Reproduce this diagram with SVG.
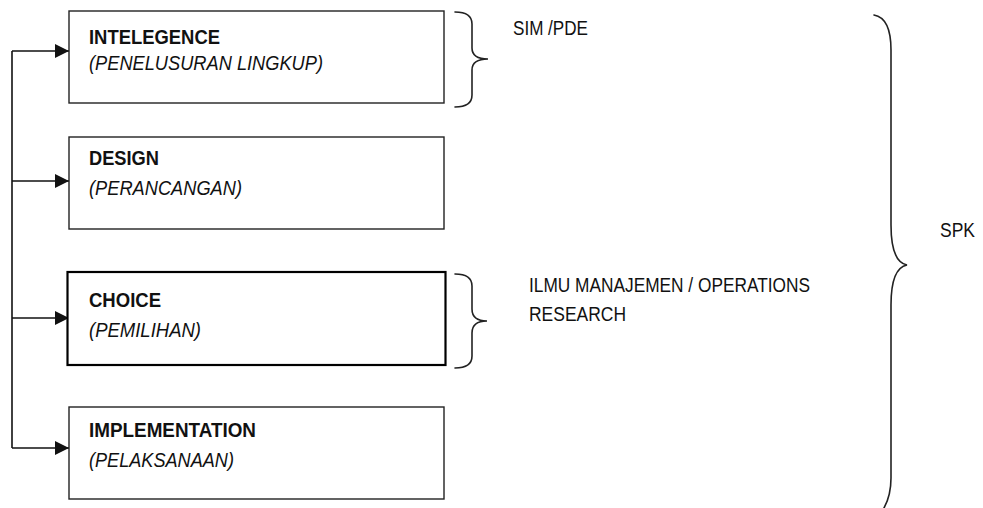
<svg xmlns="http://www.w3.org/2000/svg" width="983" height="508" viewBox="0 0 983 508">
  <style>
    .box { fill: #ffffff; stroke: #222222; stroke-width: 1.4; }
    .box-strong { fill: #ffffff; stroke: #000000; stroke-width: 2.2; }
    .title { font-family: "Liberation Sans", Arial, sans-serif; font-size: 21px; font-weight: bold; fill: #111111; }
    .sub { font-family: "Liberation Sans", Arial, sans-serif; font-size: 21px; font-style: italic; fill: #111111; }
    .label { font-family: "Liberation Sans", Arial, sans-serif; font-size: 20px; fill: #111111; }
    .wire { fill: none; stroke: #111111; stroke-width: 1.6; }
    .brace { fill: none; stroke: #222222; stroke-width: 1.6; stroke-linecap: round; }
  </style>
  <defs>
    <marker id="arrow" markerWidth="14" markerHeight="14" refX="14" refY="7" orient="auto" markerUnits="userSpaceOnUse">
      <path d="M0,0 L14,7 L0,14 Z" fill="#111111"/>
    </marker>
  </defs>

  <rect width="983" height="508" fill="#ffffff"/>

  <!-- feedback connectors -->
  <g id="connectors">
    <path class="wire" d="M12,448 L12,51"/>
    <path class="wire" d="M12,51 L69,51" marker-end="url(#arrow)"/>
    <path class="wire" d="M12,181 L69,181" marker-end="url(#arrow)"/>
    <path class="wire" d="M12,318 L69,318" marker-end="url(#arrow)"/>
    <path class="wire" d="M12,448 L69,448" marker-end="url(#arrow)"/>
  </g>

  <g id="intelligence">
    <rect class="box" x="69" y="11" width="375" height="92"/>
    <text class="title" x="89" y="44" textLength="131" lengthAdjust="spacingAndGlyphs">INTELEGENCE</text>
    <text class="sub" x="89" y="70" textLength="234" lengthAdjust="spacingAndGlyphs">(PENELUSURAN LINGKUP)</text>
  </g>

  <g id="design">
    <rect class="box" x="69" y="137" width="375" height="92"/>
    <text class="title" x="89" y="165" textLength="70" lengthAdjust="spacingAndGlyphs">DESIGN</text>
    <text class="sub" x="89" y="195" textLength="153" lengthAdjust="spacingAndGlyphs">(PERANCANGAN)</text>
  </g>

  <g id="choice">
    <rect class="box-strong" x="67.5" y="272" width="378" height="93"/>
    <text class="title" x="89" y="307" textLength="72" lengthAdjust="spacingAndGlyphs">CHOICE</text>
    <text class="sub" x="89" y="337" textLength="112" lengthAdjust="spacingAndGlyphs">(PEMILIHAN)</text>
  </g>

  <g id="implementation">
    <rect class="box" x="69" y="407" width="375" height="92"/>
    <text class="title" x="89" y="437" textLength="167" lengthAdjust="spacingAndGlyphs">IMPLEMENTATION</text>
    <text class="sub" x="89" y="467" textLength="145" lengthAdjust="spacingAndGlyphs">(PELAKSANAAN)</text>
  </g>

  <!-- brace over the intelligence phase -->
  <g id="sim-pde">
    <path class="brace" d="M455,12 Q472,12 472,24 L472,48 Q472,59 488,59 Q472,59 472,70 L472,95 Q472,107 455,107"/>
    <text class="label" x="513" y="35" textLength="75" lengthAdjust="spacingAndGlyphs">SIM /PDE</text>
  </g>

  <!-- brace over the choice phase -->
  <g id="operations-research">
    <path class="brace" d="M455,274 Q472,274 472,286 L472,309 Q472,321 487,321 Q472,321 472,333 L472,356 Q472,368 455,368"/>
    <text class="label" x="529" y="292" textLength="281" lengthAdjust="spacingAndGlyphs">ILMU MANAJEMEN / OPERATIONS</text>
    <text class="label" x="529" y="321" textLength="97" lengthAdjust="spacingAndGlyphs">RESEARCH</text>
  </g>

  <!-- brace spanning all phases -->
  <g id="spk">
    <path class="brace" d="M874,15 Q891,18 891,50 L891,225 Q891,262 907,265 Q891,268 891,305 L891,478 Q891,500 880,514"/>
    <text class="label" x="940" y="237" textLength="35" lengthAdjust="spacingAndGlyphs">SPK</text>
  </g>
</svg>
